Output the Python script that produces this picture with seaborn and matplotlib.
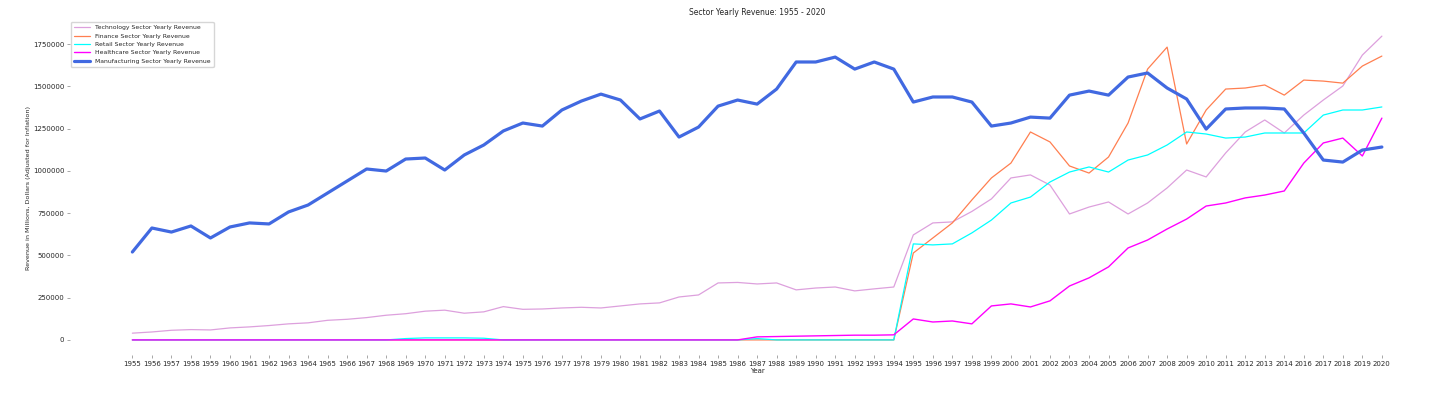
import seaborn as sns
import numpy as np
import pandas as pd
import matplotlib.pyplot as plt

# years on the axis (2015 is missing in the source data)
years = [str(y) for y in range(1955, 2021) if y != 2015]

# revenue in thousands of millions
tech = [40, 47, 57, 61, 59, 71, 77, 85, 95, 101, 116, 122, 132, 146, 155, 170, 176, 158, 166, 197,
        181, 183, 189, 193, 189, 201, 213, 219, 254, 266, 337, 340, 331, 337, 296, 307, 313, 290, 302, 313,
        621, 692, 698, 760, 834, 958, 976, 916, 745, 786, 816, 745, 810, 899, 1005, 964, 1106, 1230, 1301, 1224,
        1330, 1419, 1502, 1685, 1797]
finance = [0] * 40 + [514, 603, 692, 828, 958, 1046, 1230, 1171, 1029, 987, 1082, 1283, 1602, 1732, 1159,
                      1360, 1484, 1490, 1508, 1448, 1537, 1531, 1519, 1620, 1679]
retail = [0] * 14 + [8, 12, 12, 12, 10] + [0] * 13 + [8] + [0] * 7 + \
         [568, 562, 568, 633, 709, 810, 845, 934, 993, 1023, 993, 1064, 1094, 1153, 1230, 1218, 1194, 1200,
          1224, 1224, 1224, 1330, 1360, 1360, 1378]
health = [0] * 32 + [18, 20, 22, 24, 26, 28, 28, 30] + \
         [124, 106, 112, 95, 201, 213, 195, 231, 319, 367, 432, 544, 591, 656, 715, 792, 810, 840, 857, 881,
          1046, 1165, 1194, 1088, 1312]
manuf = [520, 662, 638, 674, 603, 668, 692, 686, 757, 798, 869, 940, 1011, 999, 1070, 1076, 1005, 1094, 1153, 1236,
         1283, 1265, 1360, 1413, 1454, 1419, 1307, 1354, 1200, 1259, 1383, 1419, 1395, 1484, 1644, 1644, 1673, 1602,
         1644, 1602, 1407, 1437, 1437, 1407, 1265, 1283, 1318, 1312, 1448, 1472, 1448, 1555, 1579, 1490, 1425, 1247,
         1366, 1372, 1372, 1366, 1224, 1064, 1052, 1123, 1141]

df = pd.DataFrame({
    "Year": years,
    "tech": np.array(tech) * 1000,
    "finance": np.array(finance) * 1000,
    "retail": np.array(retail) * 1000,
    "health": np.array(health) * 1000,
    "manuf": np.array(manuf) * 1000,
})

sns.set_style("ticks")
plt.rcParams['font.family'] = ['DejaVu Sans']

fig, ax = plt.subplots(figsize=(14.56, 3.95), dpi=100)
sns.lineplot(data=df, x="Year", y="tech", color="plum", lw=0.9, label="Technology Sector Yearly Revenue", ax=ax)
sns.lineplot(data=df, x="Year", y="finance", color="coral", lw=0.9, label="Finance Sector Yearly Revenue", ax=ax)
sns.lineplot(data=df, x="Year", y="retail", color="cyan", lw=0.9, label="Retail Sector Yearly Revenue", ax=ax)
sns.lineplot(data=df, x="Year", y="health", color="magenta", lw=1.0, label="Healthcare Sector Yearly Revenue", ax=ax)
sns.lineplot(data=df, x="Year", y="manuf", color="royalblue", lw=2.3, label="Manufacturing Sector Yearly Revenue", ax=ax)

ax.set_xlim(-3.2, len(years) - 1 + 3.2)
ax.set_yticks(np.arange(0, 1750001, 250000))
ax.ticklabel_format(axis="y", style="plain")
ax.tick_params(labelsize=5, length=2, width=0.6, color="#999999", pad=2)
ax.set_xlabel("Year", fontsize=5, labelpad=1)
ax.set_ylabel("Revenue in Millions, Dollars (Adjusted for Inflation)", fontsize=4.6, labelpad=1.5)
ax.set_title("Sector Yearly Revenue: 1955 - 2020", fontsize=5.5, pad=4)
ax.legend(loc="upper left", fontsize=4.4, frameon=True, handlelength=2.6, borderpad=0.5,
          labelspacing=0.5, borderaxespad=0.2)
sns.despine(left=True, bottom=True)

plt.subplots_adjust(left=0.048, right=0.992, bottom=0.101, top=0.947)
plt.savefig("out.png")
